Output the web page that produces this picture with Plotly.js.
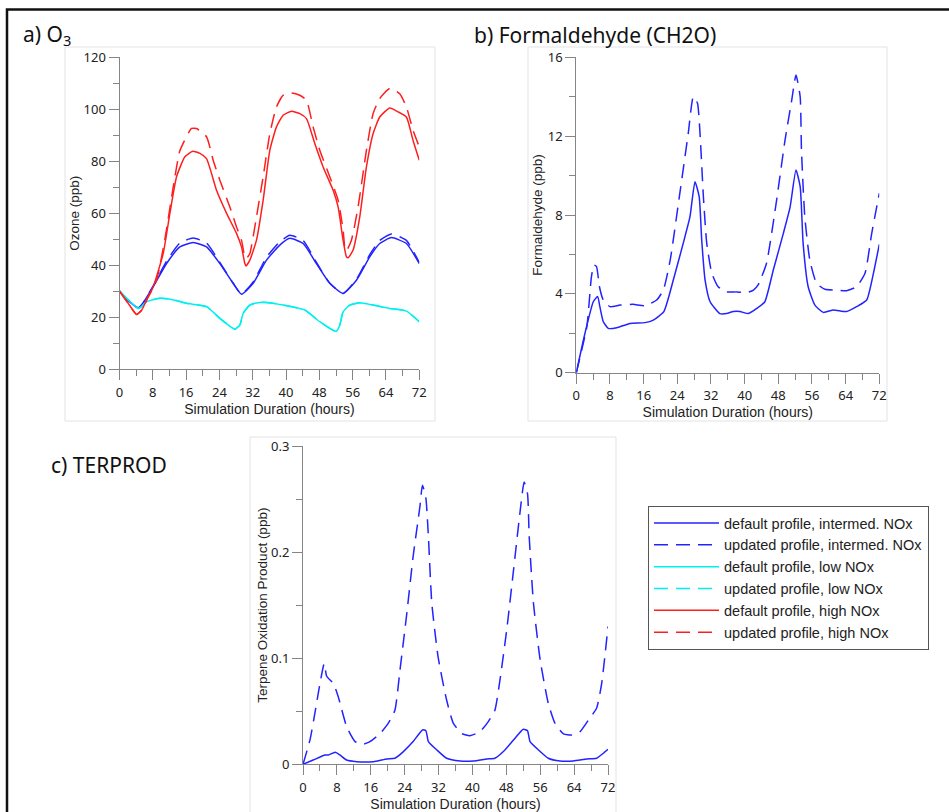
<!DOCTYPE html>
<html>
<head>
<meta charset="utf-8">
<script src="https://cdn.plot.ly/plotly-3.0.1.min.js"></script>
<style>html,body{margin:0;padding:0;background:#fff}#chart{width:949px;height:812px}</style>
</head>
<body>
<div id="chart"></div>
<script>
// ---------- Panel a) Ozone (ppb) ----------
const o3HighDefX = [0, 2, 4.1, 5.3, 6.5, 8.1, 10.5, 12.1, 13.7, 15.7, 17.6, 19.3, 20.9, 23.3, 25.7, 28.1, 29.3, 30.1, 30.4, 31.3, 32.9, 34.5, 36.1, 37.7, 39.3, 41.3, 43.3, 44.9, 46.9, 48.9, 51.3, 52.5, 53.7, 54.5, 54.9, 56.1, 57.7, 59.3, 60.9, 62.5, 64.9, 66.9, 68.9, 70.5, 72];
const o3HighDefY = [30, 25.5, 21, 22.6, 26.5, 31.7, 44.5, 59.9, 74, 81.7, 83.8, 83, 81, 68.8, 60, 52.2, 47, 40.6, 39.7, 41.9, 49.6, 65, 84.2, 93.2, 97.7, 99.2, 98.3, 96.4, 86.8, 77.8, 68.8, 62.4, 49.6, 43.2, 42.8, 45.8, 58.6, 77.8, 90.6, 97, 100.5, 99, 97, 88, 80.4];
const o3HighUpdX = [0, 2, 4.1, 5.3, 6.5, 8.9, 10.9, 12.9, 14.5, 17.3, 18.5, 20.9, 22.5, 24.1, 26.5, 28.1, 29.3, 30.1, 30.5, 31.3, 32.9, 34.5, 36.1, 37.7, 39.3, 41.3, 43.3, 44.9, 46.5, 48.1, 50.5, 52.5, 53.7, 54.1, 54.5, 55.7, 57.3, 59.3, 60.9, 62.5, 64.9, 67.3, 68.9, 70.5, 72];
const o3HighUpdY = [30, 25.5, 21, 22.6, 26.5, 34.2, 50, 70, 84, 92.6, 92.6, 89.4, 80.4, 72.7, 62.4, 54.7, 49.6, 43.2, 42.6, 44.5, 58.6, 74, 90.6, 100.9, 105.4, 106.3, 105.4, 103.5, 93.2, 84.2, 74, 65, 53.5, 47, 45.5, 49.6, 62.4, 84.2, 98.3, 104.1, 108, 106, 100.9, 91.9, 85.5];
const o3IntX = [0, 2, 4.5, 5.3, 8.1, 11.3, 14.5, 17.7, 20.9, 24.1, 27.3, 29.3, 32.1, 35.3, 38.5, 40.9, 44.1, 47.3, 50.5, 53.7, 56.9, 60.1, 62.5, 65.3, 68.9, 72];
const o3IntDefY = [30, 26.5, 23.5, 24.6, 31.7, 40.6, 47, 48.7, 47, 40.6, 33, 28.8, 33, 41.9, 47.7, 50.3, 48.3, 40.6, 33, 29.1, 34.2, 43.2, 48.3, 50.6, 48.3, 40.6];
const o3IntUpdY = [30, 26.5, 23.5, 24.6, 32, 41.5, 48.5, 50.4, 48.5, 41, 33, 28.8, 33.5, 43, 49, 51.5, 49.5, 41, 33, 29.1, 34.5, 44, 49.5, 52, 49.5, 41];
const o3LowX = [0, 2, 4.5, 5.3, 6.5, 9.7, 12.5, 16.1, 20.9, 24.1, 27.3, 27.7, 28.9, 29.7, 31.3, 33.7, 35.3, 39.3, 44.5, 48.1, 51.7, 52.1, 52.9, 53.7, 55.3, 57.7, 60.9, 64.9, 68.9, 72];
const o3LowDefY = [30, 26.8, 23.3, 24, 25.9, 27.2, 26.8, 25.3, 24, 19.5, 15.6, 15.3, 16.9, 21.4, 24.6, 25.6, 25.6, 24.6, 22.7, 18.2, 14.6, 14.6, 16.9, 22, 24.6, 25.5, 24.6, 23.3, 22.3, 18.2];
const o3LowUpdY = [30, 26.8, 23.3, 24, 25.9, 27.2, 26.8, 25.3, 24, 19.5, 15.6, 15.3, 16.9, 21.4, 24.6, 25.6, 25.6, 24.6, 22.7, 18.2, 14.6, 14.6, 16.9, 22, 24.6, 25.5, 24.6, 23.3, 22.3, 18.2];

// ---------- Panel b) Formaldehyde (ppb) ----------
const hchoDefX = [0, 2.06, 4.04, 5.07, 5.6, 6.4, 7.6, 9.6, 12.75, 16.3, 18.3, 20.8, 23.05, 25.4, 27.0, 28.2, 29.2, 29.8, 30.6, 31.8, 34.1, 35.7, 37.3, 38.9, 40.9, 42.9, 44.8, 46.8, 49.2, 50.8, 52.2, 53.2, 53.9, 55.1, 56.7, 58.7, 61.1, 64.2, 66.6, 69.0, 70.6, 72];
const hchoDefY = [0, 2.0, 3.6, 3.86, 3.35, 2.6, 2.25, 2.28, 2.5, 2.54, 2.67, 3.1, 4.7, 6.56, 7.9, 9.69, 8.93, 6.73, 4.7, 3.6, 3.0, 3.0, 3.1, 3.1, 3.0, 3.26, 3.6, 5.2, 7.07, 8.4, 10.28, 9.44, 6.56, 4.36, 3.43, 3.06, 3.18, 3.1, 3.35, 3.69, 5.04, 6.51];
const hchoUpdX = [0, 2.5, 3.6, 4.2, 4.8, 5.5, 6.4, 8.0, 10.4, 13.5, 16.3, 19.1, 20.7, 22.3, 24.6, 26.6, 27.8, 28.8, 29.4, 30.2, 31.0, 32.2, 33.7, 35.7, 38.1, 40.5, 42.1, 43.2, 45.2, 47.6, 49.6, 51.2, 52.2, 53.2, 53.5, 54.3, 55.5, 57.1, 59.1, 61.9, 64.2, 66.6, 68.6, 70.2, 72];
const hchoUpdY = [0, 2.33, 4.87, 5.46, 5.38, 4.36, 3.69, 3.35, 3.43, 3.47, 3.4, 3.69, 4.2, 5.7, 9.1, 12.14, 14.0, 13.67, 12.14, 8.93, 6.56, 5.04, 4.36, 4.1, 4.1, 4.06, 4.19, 4.45, 5.55, 8.76, 11.8, 13.84, 15.1, 14.0, 11.3, 7.9, 5.7, 4.53, 4.23, 4.19, 4.16, 4.36, 5.04, 7.07, 9.1];

// ---------- Panel c) Terpene oxidation product (ppb) ----------
const terpDefX = [0, 2.4, 5.2, 6.0, 7.6, 8.7, 10.3, 12.7, 16.6, 19.8, 21.7, 23.7, 26.0, 28.2, 29.0, 29.6, 31.6, 33.9, 37.1, 40.2, 43.4, 45.3, 47.3, 49.7, 52.0, 53.0, 53.6, 55.6, 57.9, 60.7, 63.8, 67.0, 69.3, 70.9, 72];
const terpDefY = [0, 0.004, 0.0088, 0.0088, 0.0113, 0.0088, 0.004, 0.0025, 0.0025, 0.005, 0.0057, 0.012, 0.0214, 0.0324, 0.0317, 0.0214, 0.0135, 0.0057, 0.0031, 0.0031, 0.005, 0.0057, 0.012, 0.0229, 0.033, 0.0317, 0.0214, 0.0135, 0.0057, 0.0031, 0.0031, 0.005, 0.0057, 0.0104, 0.0141];
const terpUpdX = [0, 1.65, 2.8, 4.0, 5.0, 5.6, 7.2, 8.3, 10.3, 12.3, 14.2, 15.8, 18.2, 20.1, 21.7, 22.9, 24.5, 26.0, 27.6, 28.2, 29.0, 29.6, 30.4, 31.9, 33.9, 35.5, 37.5, 39.4, 41.8, 43.7, 45.3, 46.5, 48.1, 49.7, 51.2, 52.2, 53.0, 53.4, 54.4, 56.0, 57.9, 59.5, 61.5, 63.4, 65.4, 67.4, 69.3, 70.5, 72];
const terpUpdY = [0, 0.023, 0.048, 0.076, 0.095, 0.083, 0.076, 0.064, 0.0355, 0.0214, 0.019, 0.0214, 0.029, 0.0386, 0.051, 0.089, 0.142, 0.196, 0.243, 0.263, 0.251, 0.215, 0.152, 0.101, 0.0606, 0.0386, 0.029, 0.027, 0.0308, 0.040, 0.051, 0.0795, 0.127, 0.183, 0.2365, 0.266, 0.255, 0.2146, 0.152, 0.098, 0.0575, 0.0386, 0.0286, 0.0276, 0.0308, 0.0418, 0.0528, 0.076, 0.1297];

// ---------- Labels ----------
const seriesNames = [
  'default profile, intermed. NOx',
  'updated profile, intermed. NOx',
  'default profile, low NOx',
  'updated profile, low NOx',
  'default profile, high NOx',
  'updated profile, high NOx'
];
const xTitle = 'Simulation Duration (hours)';
const yTitles = ['Ozone (ppb)', 'Formaldehyde (ppb)', 'Terpene Oxidation Product (ppb)'];
const panelTitles = ['a) O<sub>3</sub>', 'b) Formaldehyde (CH2O)', 'c) TERPROD'];

const BLUE = 'rgb(35,35,255)', CYAN = 'rgb(0,240,240)', RED = 'rgb(255,30,30)';
const DASH = '14px,8px';
const LW = 1.5;

function tr(x, y, name, color, dash, xa, ya, show) {
  return {x: x, y: y, name: name, type: 'scatter', mode: 'lines',
    line: {color: color, width: LW, dash: dash, shape: 'spline', smoothing: 0.5},
    xaxis: xa, yaxis: ya, showlegend: show, hoverinfo: 'skip'};
}

const data = [
  tr(o3IntX, o3IntDefY, seriesNames[0], BLUE, 'solid', 'x', 'y', true),
  tr(o3IntX, o3IntUpdY, seriesNames[1], BLUE, DASH, 'x', 'y', true),
  tr(o3LowX, o3LowDefY, seriesNames[2], CYAN, 'solid', 'x', 'y', true),
  tr(o3LowX, o3LowUpdY, seriesNames[3], CYAN, DASH, 'x', 'y', true),
  tr(o3HighDefX, o3HighDefY, seriesNames[4], RED, 'solid', 'x', 'y', true),
  tr(o3HighUpdX, o3HighUpdY, seriesNames[5], RED, DASH, 'x', 'y', true),
  tr(hchoDefX, hchoDefY, seriesNames[0], BLUE, 'solid', 'x2', 'y2', false),
  tr(hchoUpdX, hchoUpdY, seriesNames[1], BLUE, DASH, 'x2', 'y2', false),
  tr(terpDefX, terpDefY, seriesNames[0], BLUE, 'solid', 'x3', 'y3', false),
  tr(terpUpdX, terpUpdY, seriesNames[1], BLUE, DASH, 'x3', 'y3', false)
];

const W = 949, H = 812;
const px = v => v / W;
const py = v => 1 - v / H;
const AXC = '#858585';
const tickFont = {family: 'Noto Sans', size: 13, color: '#222'};
const titleFont = {family: 'Liberation Sans', size: 13.5, color: '#222'};

function xax(x0, x1, y0) {
  return {domain: [px(x0), px(x1)], anchor: y0, range: [0, 72], tick0: 0, dtick: 8,
    showline: true, linecolor: AXC, linewidth: 1, ticks: 'outside', ticklen: 10, tickcolor: AXC,
    minor: {ticks: 'outside', dtick: 4, tick0: 0, ticklen: 6, tickcolor: AXC},
    showgrid: false, zeroline: false, tickfont: tickFont, ticklabelstandoff: 1,
    title: {text: xTitle, font: {family: 'Liberation Sans', size: 14, color: '#222'}, standoff: 2}};
}
function yax(top, bot, anchor, rng, dt, mdt, title, stand) {
  return {domain: [py(bot), py(top)], anchor: anchor, range: rng, tick0: 0, dtick: dt,
    showline: true, linecolor: AXC, linewidth: 1, ticks: 'outside', ticklen: 10, tickcolor: AXC,
    minor: {ticks: 'outside', dtick: mdt, tick0: 0, ticklen: 6, tickcolor: AXC},
    showgrid: false, zeroline: false, tickfont: tickFont,
    title: {text: title, font: titleFont, standoff: stand}};
}

const layout = {
  width: W, height: H, margin: {l: 0, r: 0, t: 0, b: 0},
  paper_bgcolor: '#fff', plot_bgcolor: 'rgba(0,0,0,0)',
  xaxis: xax(119.5, 419.3, 'y'),
  yaxis: yax(57.3, 369, 'x', [0, 120], 20, 10, yTitles[0], 0),
  xaxis2: xax(576.3, 879.3, 'y2'),
  yaxis2: yax(57.3, 372.7, 'x2', [0, 16], 4, 2, yTitles[1], 2),
  xaxis3: xax(303, 608, 'y3'),
  yaxis3: yax(446, 764.3, 'x3', [0, 0.3], 0.1, 0.05, yTitles[2], 0),
  showlegend: true,
  legend: {x: px(648), y: py(506), xanchor: 'left', yanchor: 'top',
    bordercolor: '#555', borderwidth: 1, bgcolor: '#fff',
    font: {family: 'Liberation Sans', size: 14.5, color: '#222'},
    itemwidth: 65, tracegroupgap: 0},
  shapes: [
    {type: 'rect', xref: 'paper', yref: 'paper', x0: px(65), x1: px(435), y0: py(421), y1: py(47), line: {color: '#e3e3e3', width: 1}, layer: 'below'},
    {type: 'rect', xref: 'paper', yref: 'paper', x0: px(528), x1: px(887), y0: py(421), y1: py(47), line: {color: '#e3e3e3', width: 1}, layer: 'below'},
    {type: 'rect', xref: 'paper', yref: 'paper', x0: px(250), x1: px(616), y0: py(830), y1: py(437), line: {color: '#e3e3e3', width: 1}, layer: 'below'},
    {type: 'rect', xref: 'paper', yref: 'paper', x0: px(7), x1: px(960), y0: py(830), y1: py(9.5), line: {color: '#111', width: 2.5}}
  ],
  annotations: [
    {text: panelTitles[0], xref: 'paper', yref: 'paper', x: px(21), y: py(35), xanchor: 'left', yanchor: 'middle', showarrow: false, font: {family: 'Noto Sans', size: 21, color: '#111'}},
    {text: panelTitles[1], xref: 'paper', yref: 'paper', x: px(472), y: py(35), xanchor: 'left', yanchor: 'middle', showarrow: false, font: {family: 'Noto Sans', size: 21, color: '#111'}},
    {text: panelTitles[2], xref: 'paper', yref: 'paper', x: px(49), y: py(465), xanchor: 'left', yanchor: 'middle', showarrow: false, font: {family: 'Noto Sans', size: 21, color: '#111'}}
  ]
};

Plotly.newPlot('chart', data, layout, {staticPlot: true, displayModeBar: false});
</script>
</body>
</html>
